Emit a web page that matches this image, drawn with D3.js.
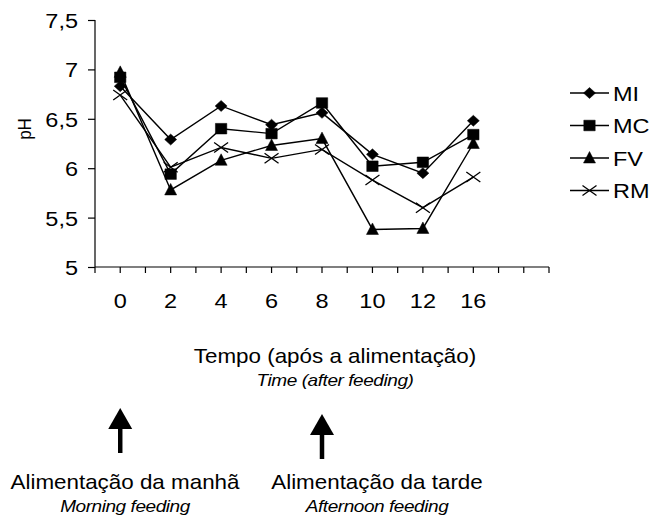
<!DOCTYPE html>
<html>
<head>
<meta charset="utf-8">
<script src="https://cdn.jsdelivr.net/npm/d3@7"></script>
<style>
  body { margin: 0; background: #fff; }
  svg { font-family: "Liberation Sans", Arial, sans-serif; }
</style>
</head>
<body>
<div class="graph"></div>
<script>
const times = ['0', '2', '4', '6', '8', '10', '12', '16'];
const seriesNames = ['MI', 'MC', 'FV', 'RM'];
const MI = [6.83, 6.29, 6.63, 6.44, 6.56, 6.14, 5.95, 6.48];
const MC = [6.92, 5.94, 6.40, 6.35, 6.66, 6.02, 6.06, 6.34];
const FV = [6.97, 5.78, 6.08, 6.23, 6.30, 5.38, 5.39, 6.25];
const RM = [6.74, 6.01, 6.21, 6.10, 6.19, 5.88, 5.60, 5.91];
const yTicks = [5, 5.5, 6, 6.5, 7, 7.5];
const feedings = ['0', '8'];

const values = { MI, MC, FV, RM };

const width = 652, height = 518;
const plotLeft = 95, plotRight = 549, plotTop = 20, plotBottom = 267;
const SX = 1.12; // the original is a bit wider than tall

const svg = d3.select('.graph').append('svg')
    .attr('width', width)
    .attr('height', height);

function label(px, py, str, size, italic) {
  return svg.append('text')
    .attr('transform', 'translate(' + px + ',' + py + ') scale(' + SX + ',1)')
    .attr('text-anchor', 'middle')
    .attr('font-size', size)
    .attr('font-style', italic ? 'italic' : null)
    .attr('letter-spacing', italic ? -0.4 : null)
    .text(str);
}

// extra empty slot so the axis runs on past 16 like the original
const x = d3.scaleBand()
    .domain([...times, ''])
    .range([plotLeft, plotRight]);
const bw = x.bandwidth();
const cx = d => x(d) + bw / 2;

const y = d3.scaleLinear()
    .domain([5, 7.5])
    .range([plotBottom, plotTop]);

const fmt = v => String(v).replace('.', ',');

// y axis
const yAxis = d3.axisLeft(y)
    .tickValues(yTicks)
    .tickFormat(fmt)
    .tickSize(7)
    .tickPadding(10);

const gy = svg.append('g')
    .attr('transform', 'translate(' + plotLeft + ',0)')
    .call(yAxis);
gy.select('.domain').attr('d', 'M0,' + plotTop + 'V' + plotBottom);
gy.selectAll('.tick line').attr('stroke-width', 1.2);
gy.select('.domain').attr('stroke-width', 1.2);
gy.selectAll('text')
    .attr('font-size', 21)
    .attr('font-family', null)
    .attr('x', null)
    .attr('dy', '0.36em')
    .attr('transform', 'translate(-17,0) scale(' + SX + ',1)');

// x axis, ticks at band edges and centres
svg.append('line')
    .attr('x1', plotLeft).attr('x2', plotRight)
    .attr('y1', plotBottom).attr('y2', plotBottom)
    .attr('stroke', '#000')
    .attr('stroke-width', 1.2);

const tickPos = [];
x.domain().forEach(d => { tickPos.push(x(d)); tickPos.push(cx(d)); });
tickPos.push(plotRight);

svg.append('g').selectAll('line')
  .data(tickPos)
  .enter().append('line')
    .attr('x1', d => d).attr('x2', d => d)
    .attr('y1', plotBottom).attr('y2', plotBottom + 6)
    .attr('stroke', '#000')
    .attr('stroke-width', 1.2);

times.forEach(t => label(cx(t), 308, t, 21));

// axis titles
svg.append('text')
    .attr('transform', 'translate(31,129) scale(' + SX + ',1) rotate(-90)')
    .attr('text-anchor', 'middle')
    .attr('font-size', 17)
    .text('pH');

label(335, 363, 'Tempo (após a alimentação)', 20);
label(335, 386, 'Time (after feeding)', 17, true);

// markers
const diamond = { draw(ctx, s) { ctx.moveTo(0, -5.5); ctx.lineTo(6, 0); ctx.lineTo(0, 5.5); ctx.lineTo(-6, 0); ctx.closePath(); } };
const square = { draw(ctx, s) { ctx.rect(-5.7, -5.3, 11.4, 10.6); } };
const triangle = { draw(ctx, s) { ctx.moveTo(0, -6.5); ctx.lineTo(6, 5); ctx.lineTo(-6, 5); ctx.closePath(); } };
const cross = { draw(ctx, s) { ctx.moveTo(-7, -5); ctx.lineTo(7, 5); ctx.moveTo(-7, 5); ctx.lineTo(7, -5); } };

const symbols = {
  MI: d3.symbol().type(diamond),
  MC: d3.symbol().type(square),
  FV: d3.symbol().type(triangle),
  RM: d3.symbol().type(cross)
};

function marker(g, name) {
  g.append('path')
    .attr('d', symbols[name]())
    .attr('fill', name === 'RM' ? 'none' : '#000')
    .attr('stroke', '#000')
    .attr('stroke-width', name === 'RM' ? 1.3 : 0.5);
}

const line = d3.line()
    .x((d, i) => cx(times[i]))
    .y(d => y(d));

seriesNames.forEach(name => {
  svg.append('path')
    .datum(values[name])
    .attr('d', line)
    .attr('fill', 'none')
    .attr('stroke', '#000')
    .attr('stroke-width', 1.4);

  svg.append('g').selectAll('g')
    .data(values[name])
    .enter().append('g')
      .attr('transform', (d, i) => 'translate(' + cx(times[i]) + ',' + y(d) + ')')
      .each(function () { marker(d3.select(this), name); });
});

// legend
const legend = svg.append('g');
seriesNames.forEach((name, i) => {
  const ly = 93 + i * 32.5;
  legend.append('line')
    .attr('x1', 570).attr('x2', 609)
    .attr('y1', ly).attr('y2', ly)
    .attr('stroke', '#000')
    .attr('stroke-width', 1.4);
  const g = legend.append('g').attr('transform', 'translate(589.5,' + ly + ')');
  marker(g, name);
  legend.append('text')
    .attr('transform', 'translate(613,' + ly + ') scale(' + SX + ',1)')
    .attr('dy', '0.36em')
    .attr('font-size', 21)
    .text(name);
});

// feeding arrows under the 0 h and 8 h points
function arrow(ax, tipY, baseY) {
  svg.append('line')
    .attr('x1', ax).attr('x2', ax)
    .attr('y1', tipY + 18).attr('y2', baseY)
    .attr('stroke', '#000')
    .attr('stroke-width', 4.5);
  svg.append('path')
    .attr('d', 'M' + ax + ',' + tipY + 'L' + (ax + 12) + ',' + (tipY + 21) + 'L' + (ax - 12) + ',' + (tipY + 21) + 'Z')
    .attr('fill', '#000');
}
arrow(cx(feedings[0]), 408, 453);
arrow(cx(feedings[1]), 414, 459);

label(125, 489, 'Alimentação da manhã', 20);
label(125, 512, 'Morning feeding', 17, true);
label(377, 489, 'Alimentação da tarde', 20);
label(377, 512, 'Afternoon feeding', 17, true);
</script>
</body>
</html>
